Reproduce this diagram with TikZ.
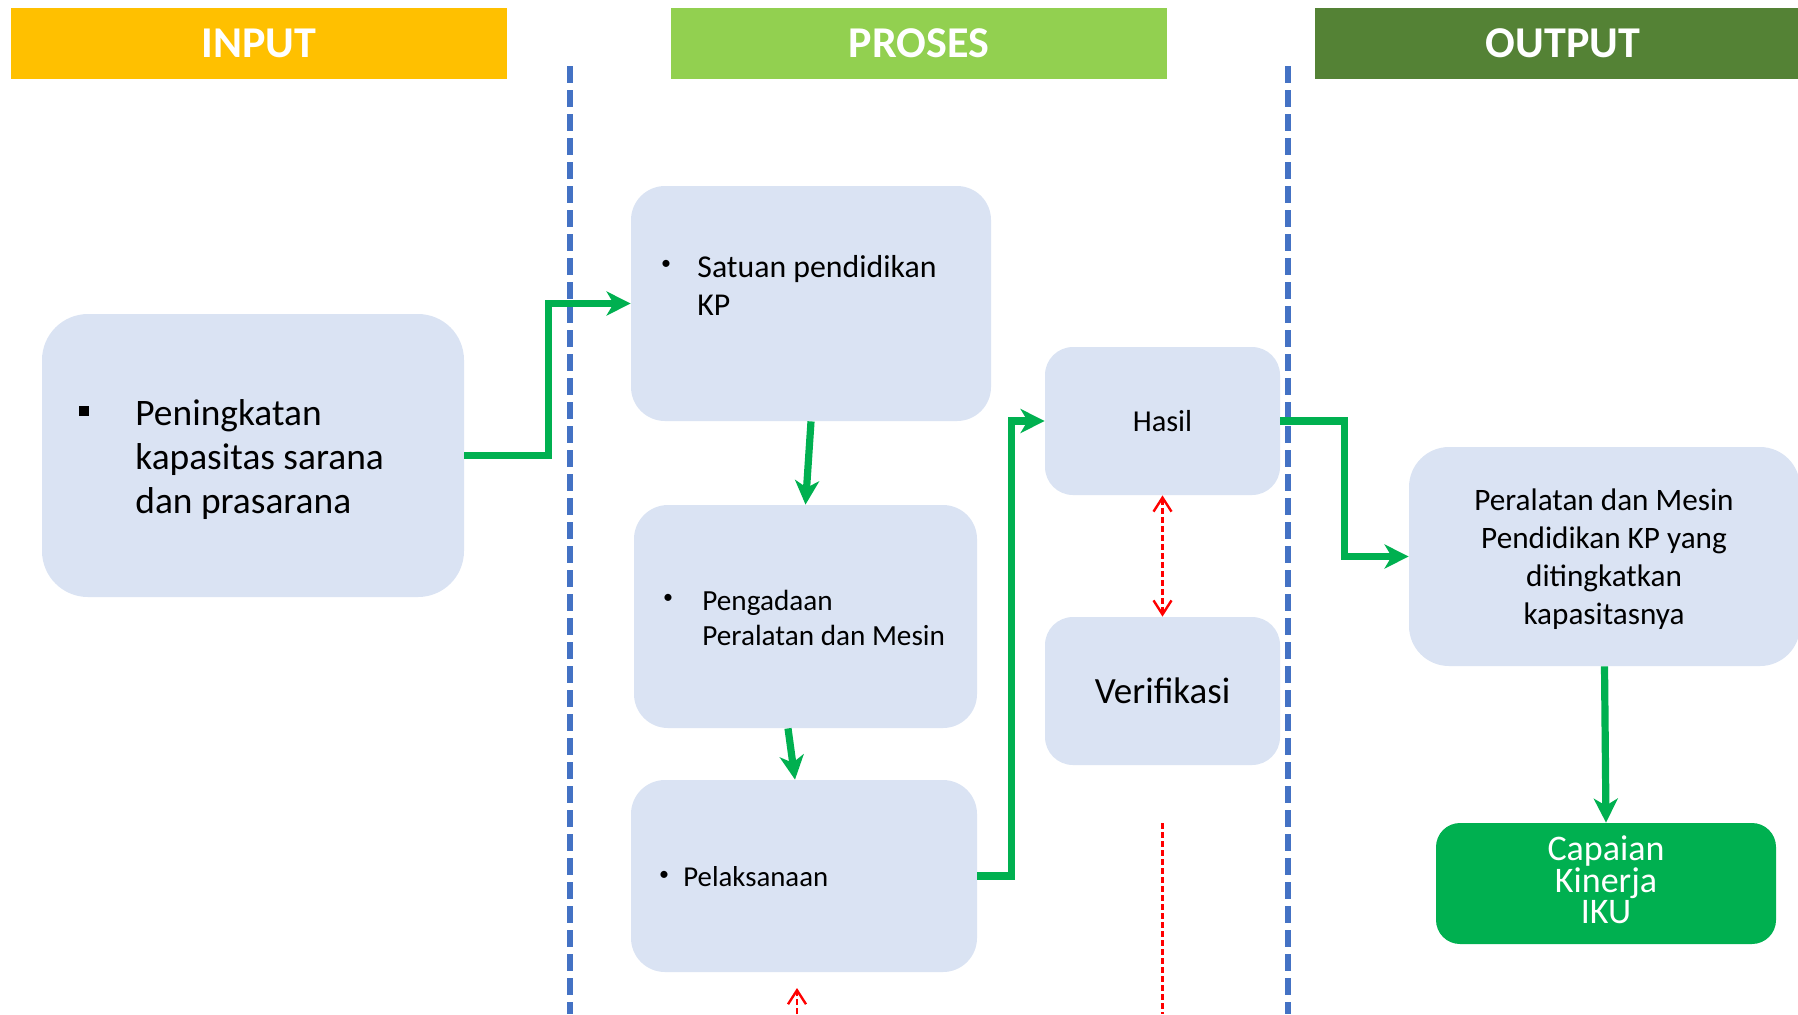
\documentclass[tikz,border=0pt]{standalone}
\usepackage{fontspec}
\setmainfont{Carlito}
\usetikzlibrary{arrows.meta}
\definecolor{kuning}{RGB}{255,192,0}
\definecolor{hijaumuda}{RGB}{146,208,80}
\definecolor{hijautua}{RGB}{84,130,53}
\definecolor{hijau}{RGB}{0,176,80}
\definecolor{biru}{RGB}{68,114,196}
\definecolor{kotakbiru}{RGB}{218,227,243}
\definecolor{merah}{RGB}{255,0,0}

\begin{document}
\begin{tikzpicture}[
	x=0.5pt, y=-0.5pt,
	judul/.style={minimum width=248pt, minimum height=35.5pt, inner sep=0pt, text=white, font=\fontsize{22}{26}\selectfont\bfseries},
	kotak/.style={fill=kotakbiru, rounded corners=#1, inner sep=0pt},
	kotak/.default=16pt,
	panah/.style={draw=hijau, line width=3.6pt, -{Stealth[length=12pt,width=12pt,inset=3.5pt]}},
	pemisah/.style={draw=biru, line width=2.6pt, dash pattern=on 8.5pt off 3.5pt},
	putus/.style={draw=merah, line width=1.2pt, dash pattern=on 3pt off 1.5pt},
	ujung/.tip={Straight Barb[length=7pt,width=9pt]}
]

	% frame
	\clip (0,0) rectangle (1798,1014);

	% headers
	\node[judul, fill=kuning] (input-judul) at (259,43.5) {INPUT};
	\node[judul, fill=hijaumuda] (proses-judul) at (919,43.5) {PROSES};
	\node[judul, fill=hijautua] (output-judul) at (1563,43.5) {OUTPUT};

	% separators
	\foreach \x in {570,1288}{
		\draw[pemisah] (\x,66) -- (\x,1014);
	}

	% define nodes
	\node[kotak=23pt, minimum width=211pt, minimum height=141.5pt] (input) at (253,455.5) {};
	\node[kotak=17pt, minimum width=180pt, minimum height=117.5pt] (satuan) at (811,303.5) {};
	\node[kotak=17pt, minimum width=171.5pt, minimum height=111.5pt] (pengadaan) at (805.5,616.5) {};
	\node[kotak=17pt, minimum width=173pt, minimum height=96pt] (pelaksanaan) at (804,876) {};
	\node[kotak=14pt, minimum width=117.5pt, minimum height=74pt, font=\fontsize{15.2}{18}\selectfont] (hasil) at (1162.5,421) {Hasil};
	\node[kotak=14pt, minimum width=117.5pt, minimum height=74pt, font=\fontsize{18.5}{22}\selectfont] (verifikasi) at (1162.5,691) {Verifikasi};
	\node[kotak=20pt, minimum width=195.5pt, minimum height=109.5pt] (luaran) at (1604.5,556.5) {};
	\node[kotak=12pt, fill=hijau, minimum width=170pt, minimum height=60.5pt] (capaian) at (1606,883.5) {};

	% texts
	\node[fill=black, inner sep=0pt, minimum size=5pt] (input-bullet) at (84,411) {};
	\node[anchor=west, align=left, inner sep=0pt, font=\fontsize{18.7}{22}\selectfont] (input-teks) at (135,460)
		{Peningkatan\\kapasitas sarana\\dan prasarana};
	\foreach \nama/\x/\y in {satuan/666/265, pengadaan/668/599, pelaksanaan/664/876}{
		\node[inner sep=0pt, font=\fontsize{10}{12}\selectfont] (\nama-bullet) at (\x,\y) {\textbullet};
	}
	\node[anchor=west, align=left, inner sep=0pt, font=\fontsize{15.9}{19}\selectfont] (satuan-teks) at (697,285)
		{Satuan pendidikan\\KP};
	\node[anchor=west, align=left, inner sep=0pt, font=\fontsize{14.6}{17.5}\selectfont] (pengadaan-teks) at (702,617.5)
		{Pengadaan\\Peralatan dan Mesin};
	\node[anchor=west, inner sep=0pt, font=\fontsize{14.4}{17}\selectfont] (pelaksanaan-teks) at (683,877)
		{Pelaksanaan};
	\node[align=center, inner sep=0pt, font=\fontsize{15.6}{19}\selectfont] (luaran-teks) at (1604,559.5)
		{Peralatan dan Mesin\\Pendidikan KP yang\\ditingkatkan\\kapasitasnya};
	\node[align=center, inner sep=0pt, text=white, font=\fontsize{18}{15.8}\selectfont] (capaian-teks) at (1606,880)
		{Capaian\\Kinerja\\IKU};

	% green arrows
	\draw[panah] (input.east) -- ++(84,0) |- (satuan.west);
	\draw[panah] (satuan.south) -- (pengadaan.north);
	\draw[panah] ([xshift=-8.75pt]pengadaan.south) -- ([xshift=-4.5pt]pelaksanaan.north);
	\draw[panah] (pelaksanaan.east) -- ++(34,0) |- (hasil.west);
	\draw[panah] (hasil.east) -- ++(64,0) |- (luaran.west);
	\draw[panah] (luaran.south) -- (capaian.north);

	% red dashed
	\coordinate (merah-atas) at (1162.5,823);
	\coordinate (merah-bawah) at (1162.5,1014);
	\coordinate (panah-bawah) at (797,1014);
	\coordinate (panah-atas) at (797,988);
	\draw[putus, {ujung}-{ujung}] (hasil.south) -- (verifikasi.north);
	\draw[putus] (merah-atas) -- (merah-bawah);
	\draw[putus, -{ujung}] (panah-bawah) -- (panah-atas);

\end{tikzpicture}
\end{document}
